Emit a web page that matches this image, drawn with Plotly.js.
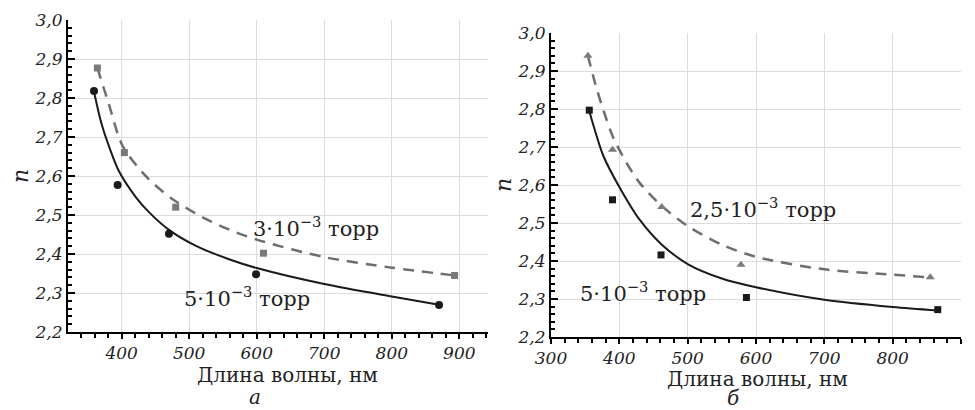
<!DOCTYPE html>
<html>
<head>
<meta charset="utf-8">
<script src="https://cdn.plot.ly/plotly-3.0.1.min.js"></script>
<style>html,body{margin:0;padding:0;background:#fff;}#chart{width:975px;height:410px;}</style>
</head>
<body>
<div id="chart"></div>
<script>
// ---- Panel а: measured points ----
const aX5 = [359, 394, 470, 599, 870];
const aY5 = [2.818, 2.577, 2.452, 2.348, 2.269];
const aX3 = [364, 404, 480, 610, 893];
const aY3 = [2.877, 2.660, 2.520, 2.402, 2.345];
// ---- Panel а: fitted curves ----
const aCurveX5 = [359, 370, 382, 396, 420, 440, 470, 510, 560, 600, 700, 800, 870];
const aCurveY5 = [2.816, 2.735, 2.672, 2.612, 2.548, 2.508, 2.462, 2.421, 2.386, 2.364, 2.323, 2.291, 2.270];
const aCurveX3 = [364, 380, 402, 440, 476, 520, 560, 600, 700, 800, 893];
const aCurveY3 = [2.877, 2.79, 2.675, 2.592, 2.540, 2.494, 2.462, 2.437, 2.392, 2.365, 2.345];

// ---- Panel б: measured points ----
const bX5 = [356, 390, 461, 586, 866];
const bY5 = [2.797, 2.561, 2.416, 2.304, 2.272];
const bX25 = [354, 390, 462, 578, 855];
const bY25 = [2.940, 2.693, 2.542, 2.390, 2.357];
// ---- Panel б: fitted curves ----
const bCurveX5 = [356, 377, 400, 430, 461, 500, 550, 600, 700, 800, 866];
const bCurveY5 = [2.795, 2.675, 2.595, 2.508, 2.445, 2.392, 2.354, 2.331, 2.298, 2.279, 2.270];
const bCurveX25 = [354, 365, 377, 391, 410, 430, 462, 500, 550, 600, 700, 800, 855];
const bCurveY25 = [2.940, 2.865, 2.795, 2.725, 2.66, 2.605, 2.545, 2.492, 2.443, 2.411, 2.378, 2.364, 2.357];

// ---- labels ----
const yTicks = [2.2, 2.3, 2.4, 2.5, 2.6, 2.7, 2.8, 2.9, 3.0];
const xTitle = 'Длина волны, нм';
const yTitle = 'n';
const labelA3 = '3·10<sup>−3</sup> торр';
const labelA5 = '5·10<sup>−3</sup> торр';
const labelB25 = '2,5·10<sup>−3</sup> торр';
const labelB5 = '5·10<sup>−3</sup> торр';
const panelLabels = ['а', 'б'];

const SERIF = 'DejaVu Serif';
const DARK = '#1a1a1a';
const GREY = '#6e6e6e';
const AXIS = '#000000';

const traces = [
  {x: aCurveX5, y: aCurveY5, mode: 'lines', line: {color: DARK, width: 2, shape: 'spline', smoothing: 0.8}, xaxis: 'x', yaxis: 'y', hoverinfo: 'skip'},
  {x: aCurveX3, y: aCurveY3, mode: 'lines', line: {color: GREY, width: 2.5, dash: '11px,8px', shape: 'spline', smoothing: 0.8}, xaxis: 'x', yaxis: 'y', hoverinfo: 'skip'},
  {x: aX5, y: aY5, mode: 'markers', marker: {symbol: 'circle', size: 8, color: DARK}, xaxis: 'x', yaxis: 'y'},
  {x: aX3, y: aY3, mode: 'markers', marker: {symbol: 'square', size: 7, color: '#7a7a7a'}, xaxis: 'x', yaxis: 'y'},
  {x: bCurveX5, y: bCurveY5, mode: 'lines', line: {color: DARK, width: 2, shape: 'spline', smoothing: 0.8}, xaxis: 'x2', yaxis: 'y2', hoverinfo: 'skip'},
  {x: bCurveX25, y: bCurveY25, mode: 'lines', line: {color: GREY, width: 2.5, dash: '11px,8px', shape: 'spline', smoothing: 0.8}, xaxis: 'x2', yaxis: 'y2', hoverinfo: 'skip'},
  {x: bX5, y: bY5, mode: 'markers', marker: {symbol: 'square', size: 7, color: DARK}, xaxis: 'x2', yaxis: 'y2'},
  {x: bX25, y: bY25, mode: 'markers', marker: {symbol: 'triangle-up', size: 8, color: '#7a7a7a'}, xaxis: 'x2', yaxis: 'y2'}
];

const tickFont = {family: SERIF, size: 17, style: 'italic', color: '#222222'};
function xAxis(domain, range, anchor) {
  return {
    domain: domain, range: range, anchor: anchor,
    tickmode: 'linear', dtick: 100, tick0: 0,
    showgrid: true, gridcolor: '#dcdcdc', gridwidth: 1,
    zeroline: false,
    showline: true, linecolor: AXIS, linewidth: 2,
    ticks: 'outside', ticklen: 5, tickwidth: 2, tickcolor: AXIS,
    minor: {dtick: 20, ticklen: 4, tickwidth: 2, tickcolor: AXIS, ticks: 'outside', showgrid: false},
    tickfont: tickFont
  };
}
function yAxis(domain, anchor) {
  return {
    domain: domain, range: [2.2, 3.0], anchor: anchor,
    tickmode: 'array', tickvals: yTicks, tickformat: '.1f',
    showgrid: true, gridcolor: '#dcdcdc', gridwidth: 1,
    zeroline: false,
    showline: true, linecolor: AXIS, linewidth: 2,
    ticks: 'inside', ticklen: 7, tickwidth: 2, tickcolor: AXIS,
    minor: {dtick: 0.02, ticklen: 4, tickwidth: 2, tickcolor: AXIS, ticks: 'inside', showgrid: false},
    tickfont: tickFont,
    title: {text: yTitle, font: {family: SERIF, size: 22, style: 'italic', color: '#222222'}, standoff: 0}
  };
}

const annFont = {family: SERIF, size: 21, color: '#222222'};
const titleFont = {family: SERIF, size: 20, color: '#222222'};
const subFont = {family: SERIF, size: 20, style: 'italic', color: '#222222'};
const layout = {
  width: 975, height: 410,
  margin: {l: 0, r: 0, t: 0, b: 0},
  paper_bgcolor: '#ffffff', plot_bgcolor: '#ffffff',
  separators: ', ',
  showlegend: false,
  xaxis: xAxis([68/975, 488/975], [320.5, 942.5], 'y'),
  yaxis: yAxis([1 - 332/410, 1 - 20/410], 'x'),
  xaxis2: xAxis([551/975, 961/975], [300, 900], 'y2'),
  yaxis2: yAxis([1 - 337/410, 1 - 33/410], 'x2'),
  annotations: [
    {text: labelA3, x: 688, y: 2.469, xref: 'x', yref: 'y', showarrow: false, font: annFont},
    {text: labelA5, x: 585, y: 2.29, xref: 'x', yref: 'y', showarrow: false, font: annFont},
    {text: labelB25, x: 610, y: 2.54, xref: 'x2', yref: 'y2', showarrow: false, font: annFont},
    {text: labelB5, x: 435, y: 2.319, xref: 'x2', yref: 'y2', showarrow: false, font: annFont},
    {text: xTitle, x: 287/975, y: 1 - 375/410, xref: 'paper', yref: 'paper', xanchor: 'center', yanchor: 'middle', showarrow: false, font: titleFont},
    {text: xTitle, x: 757/975, y: 1 - 379/410, xref: 'paper', yref: 'paper', xanchor: 'center', yanchor: 'middle', showarrow: false, font: titleFont},
    {text: panelLabels[0], x: 255/975, y: 1 - 397/410, xref: 'paper', yref: 'paper', xanchor: 'center', yanchor: 'middle', showarrow: false, font: subFont},
    {text: panelLabels[1], x: 733/975, y: 1 - 398/410, xref: 'paper', yref: 'paper', xanchor: 'center', yanchor: 'middle', showarrow: false, font: subFont}
  ]
};

Plotly.newPlot('chart', traces, layout, {staticPlot: true, displayModeBar: false});
</script>
</body>
</html>
